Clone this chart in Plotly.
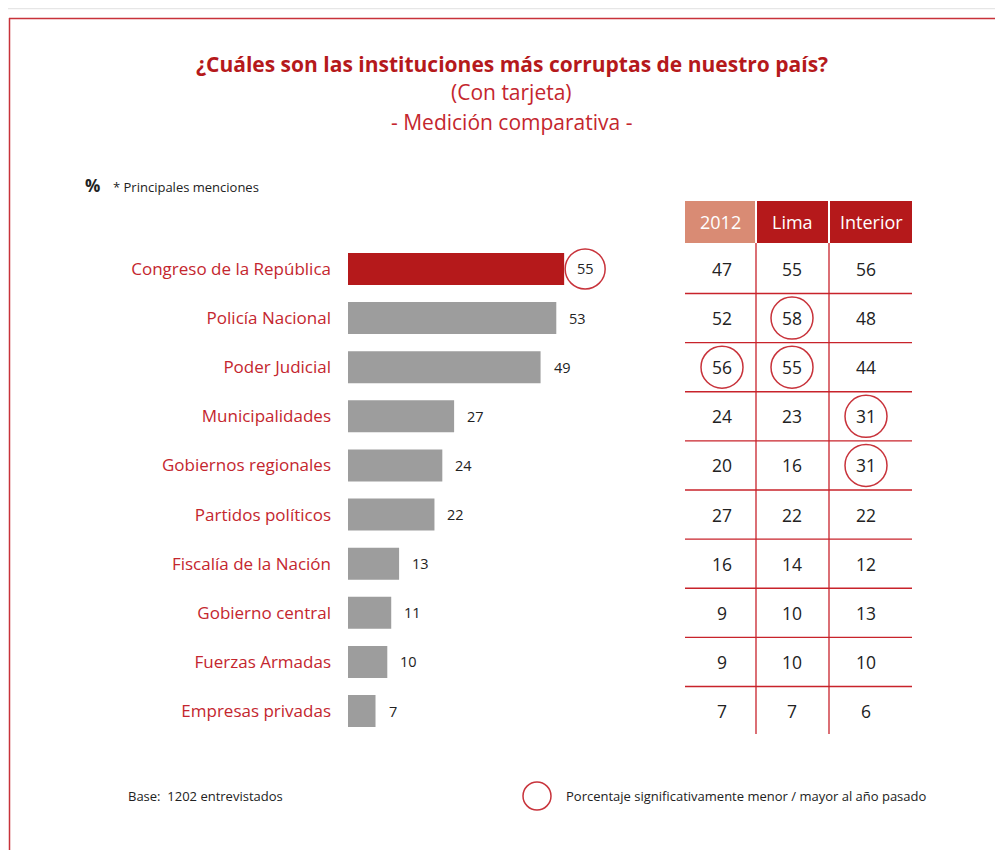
import plotly.graph_objects as go

categories = ["Congreso de la República", "Policía Nacional", "Poder Judicial",
              "Municipalidades", "Gobiernos regionales", "Partidos políticos",
              "Fiscalía de la Nación", "Gobierno central", "Fuerzas Armadas",
              "Empresas privadas"]
values_2013 = [55, 53, 49, 27, 24, 22, 13, 11, 10, 7]
col_2012 = [47, 52, 56, 24, 20, 27, 16, 9, 9, 7]
col_lima = [55, 58, 55, 23, 16, 22, 14, 10, 10, 7]
col_interior = [56, 48, 44, 31, 31, 22, 12, 13, 10, 6]
table_headers = ["2012", "Lima", "Interior"]
# significance marks: (column index, row index)
marked_cells = [(0, 2), (1, 1), (1, 2), (2, 3), (2, 4)]
marked_bars = [0]

# page has an 8px body margin; the figure is sized to fill the rest of the window
OFF = 8
W, H = 1003 - OFF, 850 - OFF
RED = "#b5191b"
LABEL_RED = "#c4262e"
CIRCLE = "#c8333b"
GRAY = "#9d9d9d"
TXT = "#222222"
FONT = "Open Sans"

def px(x):
    return (x - OFF) / W

def py(y):
    return 1 - (y - OFF) / H

bar_colors = [RED if i in marked_bars else GRAY for i in range(len(categories))]

fig = go.Figure()
fig.add_trace(go.Bar(
    x=values_2013, y=list(range(len(categories))), orientation="h",
    marker=dict(color=bar_colors, line=dict(width=0)), width=0.65,
    hoverinfo="skip"))

scale = 3.93
x_range_max = (1003 - 348) / scale
y_top, y_bot = 244.4, 735.6
row_px = (y_bot - y_top) / len(categories)

fig.update_layout(
    width=W, height=H, margin=dict(l=0, r=0, t=0, b=0),
    paper_bgcolor="white", plot_bgcolor="rgba(0,0,0,0)",
    showlegend=False, font=dict(family=FONT, color=TXT),
    xaxis=dict(domain=[px(348), 1], range=[0, x_range_max], visible=False, fixedrange=True),
    yaxis=dict(domain=[py(y_bot), py(y_top)], range=[len(categories) - 0.5, -0.5],
               tickmode="array", tickvals=list(range(len(categories))), ticktext=categories,
               tickfont=dict(family=FONT, size=17, color=LABEL_RED),
               showgrid=False, zeroline=False, showline=False, ticks="",
               ticklabelstandoff=16, fixedrange=True),
)

shapes = []
ann = []

def note(x, y, text, size, color=TXT, xanchor="center", xref="paper", yref="paper", **kw):
    ann.append(dict(x=x, y=y, xref=xref, yref=yref, text=text, showarrow=False,
                    xanchor=xanchor, yanchor="middle",
                    font=dict(size=size, color=color, family=FONT), **kw))

# value labels
for i, v in enumerate(values_2013):
    note(v, i, str(v), 14.5, xanchor="left", xref="x", yref="y", xshift=11)
for i in marked_bars:
    r = 20 / scale
    c = values_2013[i] + 21 / scale
    shapes.append(dict(type="circle", xref="x", yref="y", x0=c - r, x1=c + r,
                       y0=i - 20 / row_px, y1=i + 20 / row_px,
                       line=dict(color=CIRCLE, width=1.5)))

# titles
note(px(512), py(64), "<b>¿Cuáles son las instituciones más corruptas de nuestro país?</b>", 21, RED)
note(px(512), py(92), "(Con tarjeta)", 21, LABEL_RED)
note(px(512), py(122), "- Medición comparativa -", 21, LABEL_RED)
note(px(83), py(185), "<b>%</b>", 17, xanchor="left")
note(px(111), py(187), "* Principales menciones", 13, xanchor="left")

# table
col_x = [(685, 755), (757, 828), (830, 912)]
header_fill = ["#d98b74", RED, RED]
for j, (hdr, (x0, x1)) in enumerate(zip(table_headers, col_x)):
    shapes.append(dict(type="rect", xref="paper", yref="paper", x0=px(x0), x1=px(x1),
                       y0=py(243), y1=py(201), fillcolor=header_fill[j], line=dict(width=0)))
    note(px((x0 + x1) / 2), py(222), hdr, 18, "white")

cols = [col_2012, col_lima, col_interior]
centers = [722, 792, 866]
for j, col in enumerate(cols):
    for i, v in enumerate(col):
        note(px(centers[j]), i, str(v), 17.5, yref="y")
for (j, i) in marked_cells:
    shapes.append(dict(type="circle", xref="paper", yref="y",
                       x0=px(centers[j] - 21), x1=px(centers[j] + 21),
                       y0=i - 21 / row_px, y1=i + 21 / row_px,
                       line=dict(color=CIRCLE, width=1.5)))
# separators
for i in range(len(categories) - 1):
    shapes.append(dict(type="line", xref="paper", yref="y", x0=px(685), x1=px(912),
                       y0=i + 0.5, y1=i + 0.5, line=dict(color="#c8232b", width=1.3)))
for xv in (756, 829):
    shapes.append(dict(type="line", xref="paper", yref="paper", x0=px(xv), x1=px(xv),
                       y0=py(243), y1=py(734), line=dict(color="#c8232b", width=1.3)))

# footer
note(px(126), py(796), "Base:  1202 entrevistados", 13, xanchor="left")
shapes.append(dict(type="circle", xref="paper", yref="paper", x0=px(523), x1=px(551),
                   y0=py(810), y1=py(782), line=dict(color=CIRCLE, width=1.5)))
note(px(564), py(796), "Porcentaje significativamente menor / mayor al año pasado", 13, xanchor="left")

# frame
shapes.append(dict(type="line", xref="paper", yref="paper", x0=0, x1=1, y0=py(8.5), y1=py(8.5),
                   line=dict(color="#e6e6e6", width=1.5)))
shapes.append(dict(type="line", xref="paper", yref="paper", x0=px(9), x1=1, y0=py(18.5), y1=py(18.5),
                   line=dict(color="#c8323a", width=1.5)))
shapes.append(dict(type="line", xref="paper", yref="paper", x0=px(9.5), x1=px(9.5), y0=py(18), y1=0,
                   line=dict(color="#c8323a", width=1.5)))

fig.update_layout(shapes=shapes, annotations=ann)
fig.write_html("out.html")
